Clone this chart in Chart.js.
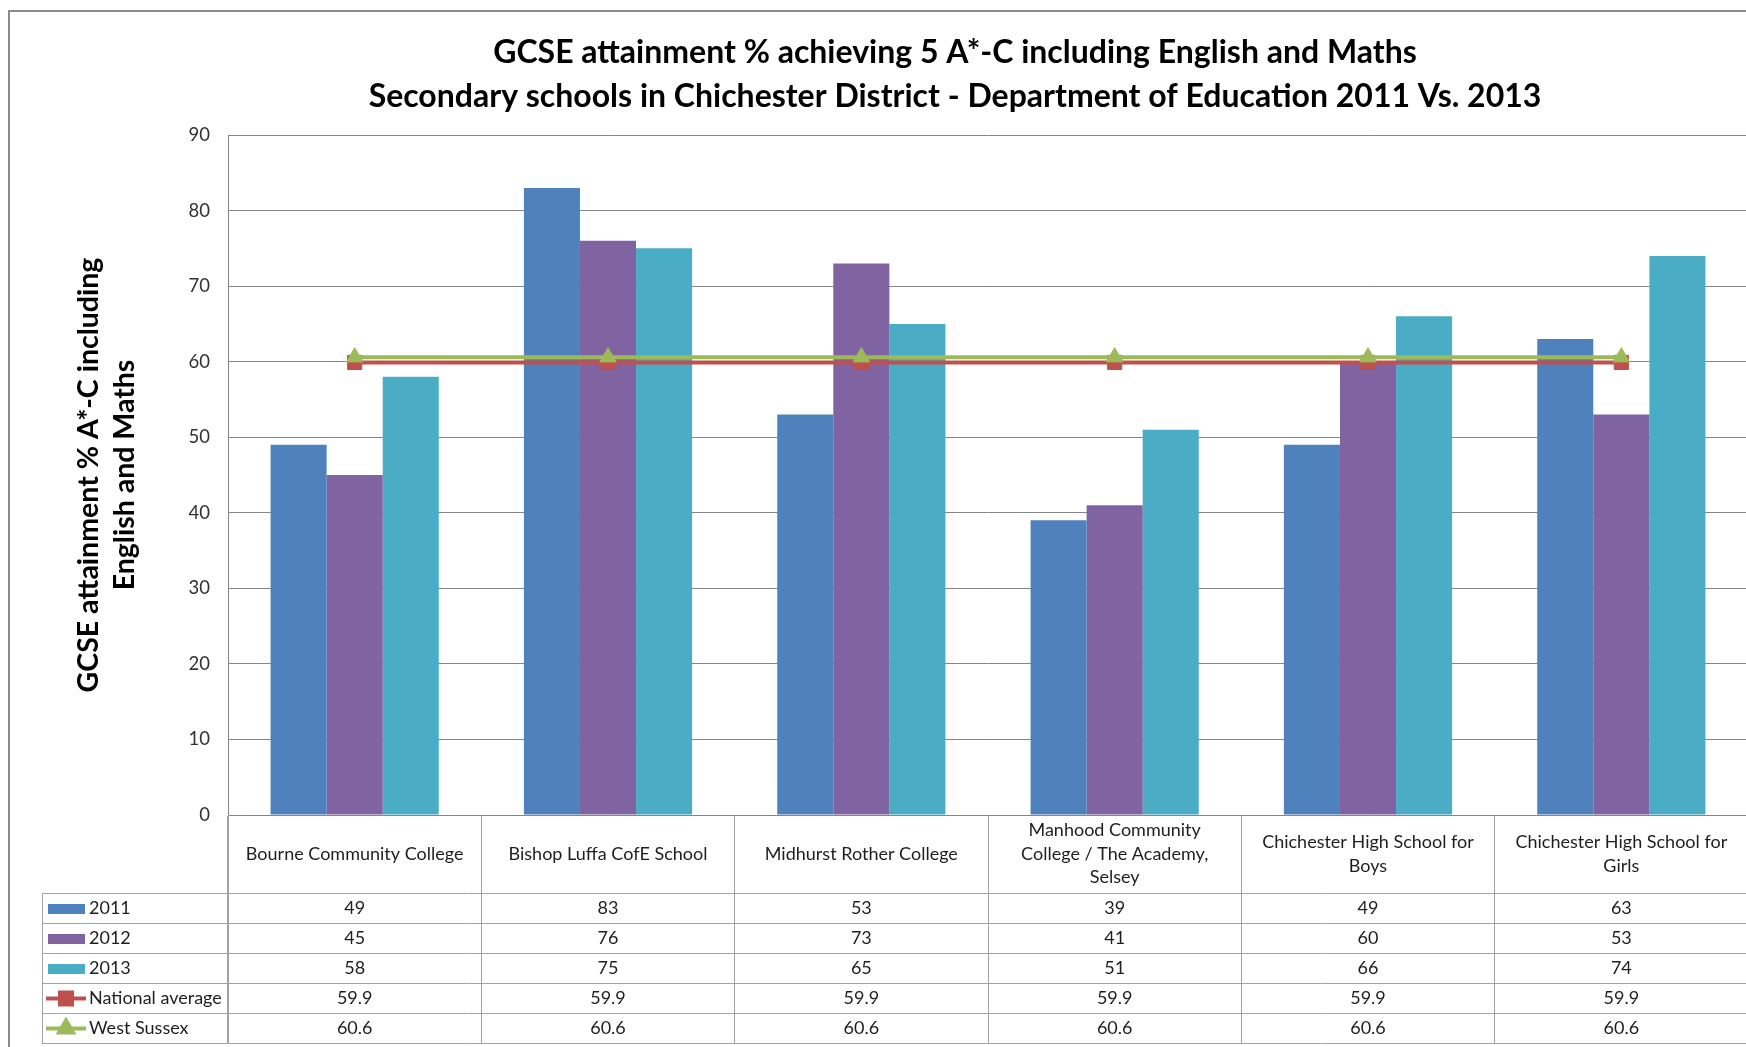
<!DOCTYPE html>
<html><head><meta charset="utf-8">
<script src="https://cdn.jsdelivr.net/npm/chart.js@4/dist/chart.umd.min.js"></script>
<style>
html,body{margin:0;padding:0;background:#fff;overflow:hidden;width:1746px;height:1047px;}
#wrap{width:1746px;height:1047px;overflow:hidden;position:relative;}
canvas{display:block;}
</style></head><body>
<div id="wrap"><canvas id="c" width="1910" height="1047" style="width:1910px;height:1047px"></canvas></div>
<script>
// ---- data ----
const titleLines = [
  "GCSE attainment % achieving 5 A*-C including English and Maths",
  "Secondary schools in Chichester District - Department of Education 2011 Vs. 2013"
];
const yAxisTitle = ["GCSE attainment % A*-C including", "English and Maths"];
const schools = [
  ["Bourne Community College"],
  ["Bishop Luffa CofE School"],
  ["Midhurst Rother College"],
  ["Manhood Community", "College / The Academy,", "Selsey"],
  ["Chichester High School for", "Boys"],
  ["Chichester High School for", "Girls"]
];
const seriesNames = ["2011", "2012", "2013", "National average", "West Sussex"];
const values2011 = [49, 83, 53, 39, 49, 63];
const values2012 = [45, 76, 73, 41, 60, 53];
const values2013 = [58, 75, 65, 51, 66, 74];
const nationalAverage = [59.9, 59.9, 59.9, 59.9, 59.9, 59.9];
const westSussex = [60.6, 60.6, 60.6, 60.6, 60.6, 60.6];
const yMin = 0, yMax = 90, yStep = 10;

// ---- styles ----
const FONT = "Lato, 'Open Sans', sans-serif";
const GRID = '#868686';
const TABLE_LINE = '#a3a3a3';
const TEXT = '#1e1e1e';

const chartBorder = {
  id: 'chartBorder',
  beforeDraw(chart) {
    const ctx = chart.ctx;
    ctx.save();
    ctx.strokeStyle = '#8a8a8a';
    ctx.lineWidth = 2;
    ctx.strokeRect(9, 11, 1892, 1060);
    ctx.restore();
  }
};

const dataTable = {
  id: 'dataTable',
  afterDraw(chart) {
    const ctx = chart.ctx;
    const xs = chart.scales.x;
    const area = chart.chartArea;
    const top = area.bottom;
    const headerH = 78, rowH = 30;
    const tableLeft = 42;
    const right = xs.right;
    const nRows = chart.data.datasets.length;
    const bottom = top + headerH + nRows * rowH;
    ctx.save();
    ctx.strokeStyle = TABLE_LINE;
    ctx.lineWidth = 1;
    ctx.beginPath();
    for (let r = 0; r <= nRows; r++) {
      const y = Math.round(top + headerH + r * rowH) + 0.5;
      ctx.moveTo(tableLeft, y); ctx.lineTo(right, y);
    }
    ctx.moveTo(tableLeft + 0.5, top + headerH); ctx.lineTo(tableLeft + 0.5, bottom);
    ctx.moveTo(Math.round(area.left) + 0.5, top); ctx.lineTo(Math.round(area.left) + 0.5, bottom + 0.5);
    ctx.stroke();

    ctx.fillStyle = TEXT;
    ctx.font = '18px ' + FONT;
    ctx.textAlign = 'center';
    ctx.textBaseline = 'middle';
    chart.data.labels.forEach((lines, i) => {
      const cx = xs.getPixelForValue(i);
      const cy = top + headerH / 2;
      const arr = Array.isArray(lines) ? lines : [lines];
      arr.forEach((l, j) => ctx.fillText(l, cx, cy + (j - (arr.length - 1) / 2) * 23.5));
    });

    chart.data.datasets.forEach((ds, r) => {
      const cy = top + headerH + r * rowH + rowH / 2 + 0.5;
      // legend key
      if (ds.type === 'line') {
        ctx.strokeStyle = ds.borderColor;
        ctx.lineWidth = 4;
        ctx.beginPath(); ctx.moveTo(46, cy); ctx.lineTo(86, cy); ctx.stroke();
        ctx.fillStyle = ds.pointBackgroundColor;
        ctx.strokeStyle = ds.pointBackgroundColor;
        Chart.helpers.drawPoint(ctx, {pointStyle: ds.pointStyle, radius: ds.pointRadius * 0.85, rotation: 0, borderWidth: 1}, 66, cy);
      } else {
        ctx.fillStyle = ds.backgroundColor;
        ctx.fillRect(48, Math.round(cy - 5), 37, 10);
      }
      ctx.fillStyle = TEXT;
      ctx.textAlign = 'left';
      ctx.fillText(ds.label, 89, cy);
      ctx.textAlign = 'center';
      ds.data.forEach((v, i) => ctx.fillText(String(v), xs.getPixelForValue(i), cy));
    });
    ctx.restore();
  }
};

const ctxEl = document.getElementById('c');
new Chart(ctxEl, {
  data: {
    labels: schools,
    datasets: [
      { type: 'bar', label: seriesNames[0], data: values2011, backgroundColor: '#4F81BD', order: 2 },
      { type: 'bar', label: seriesNames[1], data: values2012, backgroundColor: '#8064A2', order: 3 },
      { type: 'bar', label: seriesNames[2], data: values2013, backgroundColor: '#4BACC6', order: 4 },
      { type: 'line', label: seriesNames[3], data: nationalAverage, borderColor: '#C0504D', backgroundColor: '#C0504D',
        pointBackgroundColor: '#C0504D', pointBorderColor: '#C0504D', pointStyle: 'rect', pointRadius: 10, pointBorderWidth: 1,
        borderWidth: 4, fill: false, order: 1 },
      { type: 'line', label: seriesNames[4], data: westSussex, borderColor: '#9BBB59', backgroundColor: '#9BBB59',
        pointBackgroundColor: '#9BBB59', pointBorderColor: '#9BBB59', pointStyle: 'triangle', pointRadius: 9.5, pointBorderWidth: 1,
        borderWidth: 4, fill: false, order: 0 }
    ]
  },
  options: {
    responsive: false,
    animation: false,
    devicePixelRatio: 1,
    datasets: { bar: { categoryPercentage: 0.664, barPercentage: 1 } },
    layout: { padding: { top: 0, left: 0, right: 0, bottom: 4 } },
    plugins: {
      legend: { display: false },
      tooltip: { enabled: false },
      title: {
        display: true,
        text: titleLines,
        color: '#000',
        font: { family: FONT, size: 32, weight: 'bold', lineHeight: 44 / 32 },
        padding: { top: 31, bottom: 16 }
      }
    },
    scales: {
      x: {
        offset: true,
        grid: { offset: true, drawOnChartArea: false, drawTicks: true, tickLength: 228, color: TABLE_LINE },
        border: { color: GRID },
        ticks: { display: false },
        afterFit(s) { s.height = 228; }
      },
      y: {
        min: yMin, max: yMax,
        ticks: { stepSize: yStep, padding: 18, color: '#333', font: { family: FONT, size: 18.5 } },
        grid: { color: GRID, drawTicks: false },
        border: { color: GRID },
        title: {
          display: true, text: yAxisTitle, color: '#000',
          font: { family: FONT, size: 28.5, weight: 'bold', lineHeight: 36 / 28.5 },
          padding: { top: 71, bottom: 0 }
        },
        afterFit(s) { s.width = 228; }
      },
      yRight: {
        position: 'right', display: true, min: 0, max: 1,
        grid: { display: false }, border: { display: false }, ticks: { display: false },
        afterFit(s) { s.width = 162; }
      }
    }
  },
  plugins: [chartBorder, dataTable]
});
</script>
</body></html>
